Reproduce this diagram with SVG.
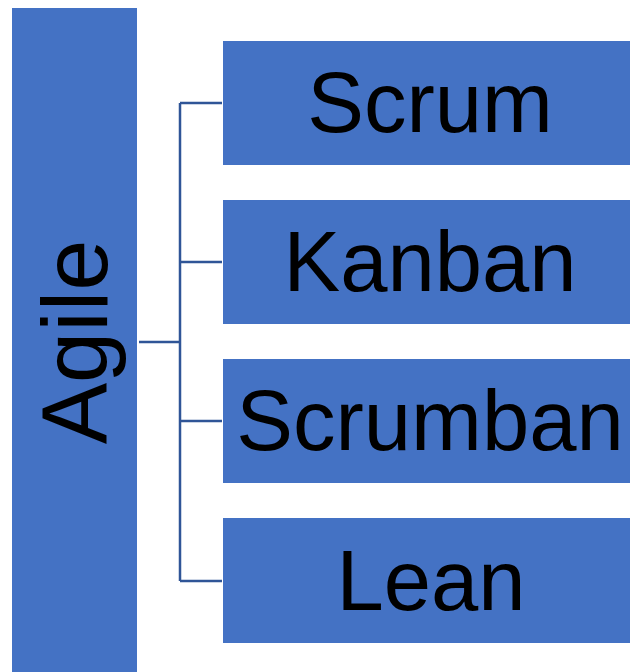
<svg xmlns="http://www.w3.org/2000/svg" width="630" height="672" viewBox="0 0 630 672">
<style>
.box{fill:#4472C4;}
.t{font-family:"Liberation Sans",Arial,sans-serif;fill:#000;text-anchor:middle;}
.c{stroke:#2F5597;stroke-width:2.5;fill:none;}
</style>
<rect width="630" height="672" fill="#fff"/>
<g id="connectors">
<path class="c" d="M139 342H180M180 103V581M180 103H222M180 262H222M180 421H222M180 581H222"/>
</g>
<g id="agile">
<rect class="box" x="12" y="8" width="125" height="664"/>
<text class="t" font-size="92" transform="translate(107,342) rotate(-90)">Agile</text>
</g>
<g id="scrum">
<rect class="box" x="223" y="41" width="407" height="124"/>
<text class="t" font-size="85" x="430" y="132">Scrum</text>
</g>
<g id="kanban">
<rect class="box" x="223" y="200" width="407" height="124"/>
<text class="t" font-size="85" x="430" y="291">Kanban</text>
</g>
<g id="scrumban">
<rect class="box" x="223" y="359" width="407" height="124"/>
<text class="t" font-size="85" x="430" y="450">Scrumban</text>
</g>
<g id="lean">
<rect class="box" x="223" y="518" width="407" height="125"/>
<text class="t" font-size="85" x="431" y="610">Lean</text>
</g>
</svg>
